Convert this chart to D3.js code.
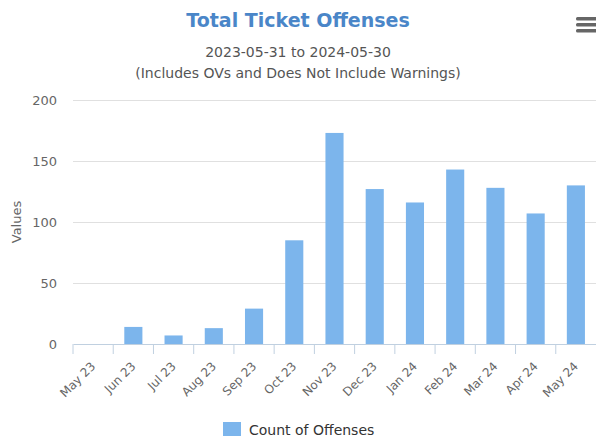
<!DOCTYPE html>
<html>
<head>
<meta charset="utf-8">
<script src="https://cdn.jsdelivr.net/npm/d3@7"></script>
<style>
  body { margin: 0; background: #fff; overflow: hidden; }
  svg { display: block; font-family: "DejaVu Sans", Verdana, sans-serif; }
</style>
</head>
<body>
<div id="chart"></div>
<script>
// Total Ticket Offenses - monthly column chart

const months = ["May 23", "Jun 23", "Jul 23", "Aug 23", "Sep 23", "Oct 23", "Nov 23",
                "Dec 23", "Jan 24", "Feb 24", "Mar 24", "Apr 24", "May 24"];
const offenses = [0, 14, 7, 13, 29, 85, 173, 127, 116, 143, 128, 107, 130];
const yTicks = [0, 50, 100, 150, 200];

const width = 596;
const height = 442;
const margin = {top: 100, right: 0, bottom: 98, left: 73};

const svg = d3.select("#chart")
    .append("svg")
    .attr("width", width)
    .attr("height", height);

const innerWidth = width - margin.left - margin.right;
const innerHeight = height - margin.top - margin.bottom;

const inner = svg.append("g")
    .attr("transform", `translate(${margin.left}, ${margin.top})`);

const xScale = d3.scaleBand()
    .domain(months)
    .range([0, innerWidth])
    .paddingInner(0.55)
    .paddingOuter(0.275);

const xTickScale = d3.scaleBand()
    .domain(months)
    .range([0, innerWidth]);

const yScale = d3.scaleLinear()
    .domain([0, 200])
    .range([innerHeight, 0]);

// title + subtitle
svg.append("text")
    .attr("x", width / 2).attr("y", 27)
    .attr("text-anchor", "middle")
    .attr("font-size", 19).attr("font-weight", "bold")
    .attr("fill", "#4a86c8")
    .text("Total Ticket Offenses");

svg.append("text")
    .attr("x", width / 2).attr("y", 57)
    .attr("text-anchor", "middle")
    .attr("font-size", 14).attr("fill", "#555")
    .text("2023-05-31 to 2024-05-30");

svg.append("text")
    .attr("x", width / 2).attr("y", 78)
    .attr("text-anchor", "middle")
    .attr("font-size", 14).attr("fill", "#555")
    .text("(Includes OVs and Does Not Include Warnings)");

// menu icon
svg.append("g")
    .selectAll("rect")
    .data([0, 1, 2])
    .join("rect")
    .attr("x", 576).attr("y", i => 17 + i * 6)
    .attr("width", 21).attr("height", 3.5)
    .attr("rx", 1.5)
    .attr("fill", "#666");

// grid
const yAxis = inner.append("g")
    .call(d3.axisLeft(yScale).tickValues(yTicks).tickSize(-innerWidth).tickPadding(16));
yAxis.select(".domain").remove();
yAxis.selectAll("line").attr("stroke", d => d === 0 ? "none" : "#e0e0e0");
yAxis.selectAll("text")
    .attr("font-size", 13)
    .attr("fill", "#666")
    .attr("font-family", "DejaVu Sans, sans-serif");

svg.append("text")
    .attr("transform", `translate(21, ${margin.top + innerHeight / 2}) rotate(-90)`)
    .attr("text-anchor", "middle")
    .attr("font-size", 13).attr("fill", "#666")
    .text("Values");

// bars
inner.selectAll(".bar")
    .data(offenses)
    .join("rect")
    .attr("class", "bar")
    .attr("x", (d, i) => xScale(months[i]))
    .attr("y", d => yScale(d))
    .attr("width", xScale.bandwidth())
    .attr("height", d => innerHeight - yScale(d))
    .attr("fill", "#7cb5ec");

// x axis
const xAxis = inner.append("g")
    .attr("transform", `translate(0, ${innerHeight})`)
    .call(d3.axisBottom(xTickScale).tickSize(10).tickSizeOuter(0));
xAxis.select(".domain").attr("stroke", "#c0d0e0");
xAxis.selectAll(".tick line")
    .attr("stroke", "#c0d0e0")
    .attr("transform", `translate(${-xTickScale.bandwidth() / 2}, 0)`);
xAxis.selectAll("text")
    .attr("font-size", 12)
    .attr("fill", "#666")
    .attr("font-family", "DejaVu Sans, sans-serif")
    .attr("text-anchor", "end")
    .attr("dy", null)
    .attr("y", 0)
    .attr("transform", "translate(3, 23) rotate(-45)");

// legend
const legend = svg.append("g").attr("transform", "translate(223, 422)");
legend.append("rect")
    .attr("width", 18).attr("height", 14)
    .attr("fill", "#7cb5ec");
legend.append("text")
    .attr("x", 26).attr("y", 13)
    .attr("font-size", 14).attr("fill", "#333")
    .text("Count of Offenses");
</script>
</body>
</html>
